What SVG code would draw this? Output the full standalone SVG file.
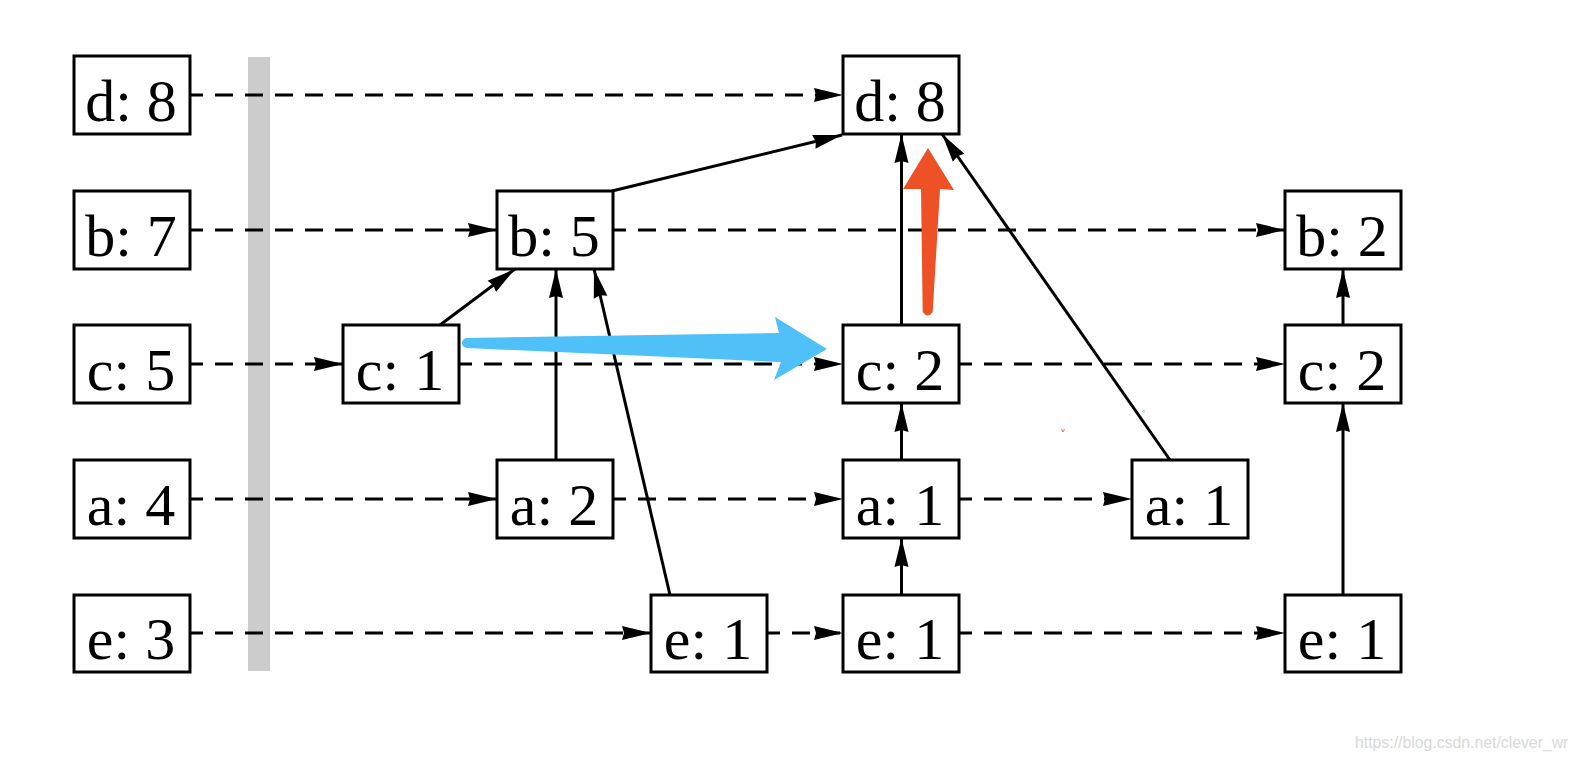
<svg xmlns="http://www.w3.org/2000/svg" width="1578" height="762" viewBox="0 0 1578 762">
<style>
.box{fill:#fff;stroke:#000;stroke-width:3}
.lbl{font-family:"Liberation Serif","DejaVu Serif",serif;font-size:60px;fill:#000;text-anchor:middle}
.dash{fill:none;stroke:#000;stroke-width:3;stroke-dasharray:18 12;stroke-dashoffset:5;marker-end:url(#ah)}
.sol{fill:none;stroke:#000;stroke-width:3;marker-end:url(#ah)}
</style>
<defs>
<marker id="ah" markerUnits="userSpaceOnUse" markerWidth="32" markerHeight="18" viewBox="0 -9 32 18" refX="29" refY="0" orient="auto">
<path d="M29,0 L0,-7 L2,0 L0,7 Z" fill="#000"/>
</marker>
</defs>
<rect width="1578" height="762" fill="#fff"/>
<rect id="bar" x="248" y="57" width="22" height="614" fill="#cccccc"/>
<g id="connectors">
<line class="dash" x1="190" y1="95" x2="843" y2="95"/>
<line class="dash" x1="190" y1="230" x2="497" y2="230"/>
<line class="dash" x1="613" y1="230" x2="1285" y2="230"/>
<line class="dash" x1="190" y1="364" x2="343" y2="364"/>
<line class="dash" x1="459" y1="364" x2="843" y2="364"/>
<line class="dash" x1="959" y1="364" x2="1285" y2="364"/>
<line class="dash" x1="190" y1="499" x2="497" y2="499"/>
<line class="dash" x1="613" y1="499" x2="843" y2="499"/>
<line class="dash" x1="959" y1="499" x2="1132" y2="499"/>
<line class="dash" x1="190" y1="633" x2="651" y2="633"/>
<line class="dash" x1="767" y1="633" x2="843" y2="633"/>
<line class="dash" x1="959" y1="633" x2="1285" y2="633"/>
<line class="sol" x1="612" y1="191" x2="842" y2="135"/>
<line class="sol" x1="440" y1="325" x2="515" y2="269"/>
<line class="sol" x1="556" y1="460" x2="556" y2="269"/>
<line class="sol" x1="670" y1="595" x2="594" y2="269"/>
<line class="sol" x1="901.5" y1="325" x2="901.5" y2="134"/>
<line class="sol" x1="1170" y1="460" x2="942" y2="134"/>
<line class="sol" x1="901.5" y1="460" x2="901.5" y2="403"/>
<line class="sol" x1="901.5" y1="595" x2="901.5" y2="538"/>
<line class="sol" x1="1343" y1="325" x2="1343" y2="269"/>
<line class="sol" x1="1343" y1="595" x2="1343" y2="403"/>
</g>
<g id="n-d8a"><rect class="box" x="74" y="56" width="116" height="78"/><text class="lbl" x="131" y="121">d: 8</text></g>
<g id="n-b7"><rect class="box" x="74" y="191" width="116" height="78"/><text class="lbl" x="131" y="256">b: 7</text></g>
<g id="n-c5"><rect class="box" x="74" y="325" width="116" height="78"/><text class="lbl" x="131" y="390">c: 5</text></g>
<g id="n-a4"><rect class="box" x="74" y="460" width="116" height="78"/><text class="lbl" x="131" y="525">a: 4</text></g>
<g id="n-e3"><rect class="box" x="74" y="595" width="116" height="77"/><text class="lbl" x="131" y="659">e: 3</text></g>
<g id="n-c1"><rect class="box" x="343" y="325" width="116" height="78"/><text class="lbl" x="400" y="390">c: 1</text></g>
<g id="n-b5"><rect class="box" x="497" y="191" width="116" height="78"/><text class="lbl" x="554" y="256">b: 5</text></g>
<g id="n-a2"><rect class="box" x="497" y="460" width="116" height="78"/><text class="lbl" x="554" y="525">a: 2</text></g>
<g id="n-e1a"><rect class="box" x="651" y="595" width="116" height="77"/><text class="lbl" x="708" y="659">e: 1</text></g>
<g id="n-d8b"><rect class="box" x="843" y="56" width="116" height="78"/><text class="lbl" x="900" y="121">d: 8</text></g>
<g id="n-c2a"><rect class="box" x="843" y="325" width="116" height="78"/><text class="lbl" x="900" y="390">c: 2</text></g>
<g id="n-a1a"><rect class="box" x="843" y="460" width="116" height="78"/><text class="lbl" x="900" y="525">a: 1</text></g>
<g id="n-e1b"><rect class="box" x="843" y="595" width="116" height="77"/><text class="lbl" x="900" y="659">e: 1</text></g>
<g id="n-a1b"><rect class="box" x="1132" y="460" width="116" height="78"/><text class="lbl" x="1189" y="525">a: 1</text></g>
<g id="n-b2"><rect class="box" x="1285" y="191" width="116" height="78"/><text class="lbl" x="1342" y="256">b: 2</text></g>
<g id="n-c2b"><rect class="box" x="1285" y="325" width="116" height="78"/><text class="lbl" x="1342" y="390">c: 2</text></g>
<g id="n-e1c"><rect class="box" x="1285" y="595" width="116" height="77"/><text class="lbl" x="1342" y="659">e: 1</text></g>
<g id="highlights">
<path d="M467,338 L779,333 L775,317 L827,349 L774,380 L781,362 L467,348 A5,5 0 0 1 467,338 Z" fill="#4fc0f8"/>
<path d="M922.7,312 L921,189 L903,189 L928,148 L954,190 L940,189 L932.7,312 Q927.7,319 922.7,312 Z" fill="#ee5126"/>
<path d="M1061.5,429 L1063,432 L1064.5,429" fill="none" stroke="#ee5126" stroke-width="0.8"/>
<path d="M1142,412 L1144,410 L1144,413" fill="none" stroke="#4fc0f8" stroke-width="0.8"/>
</g>
<text x="1355" y="748" font-family="Liberation Sans, Arial, sans-serif" font-size="15.8" fill="#d9d9d9">https://blog.csdn.net/clever_wr</text>
</svg>
